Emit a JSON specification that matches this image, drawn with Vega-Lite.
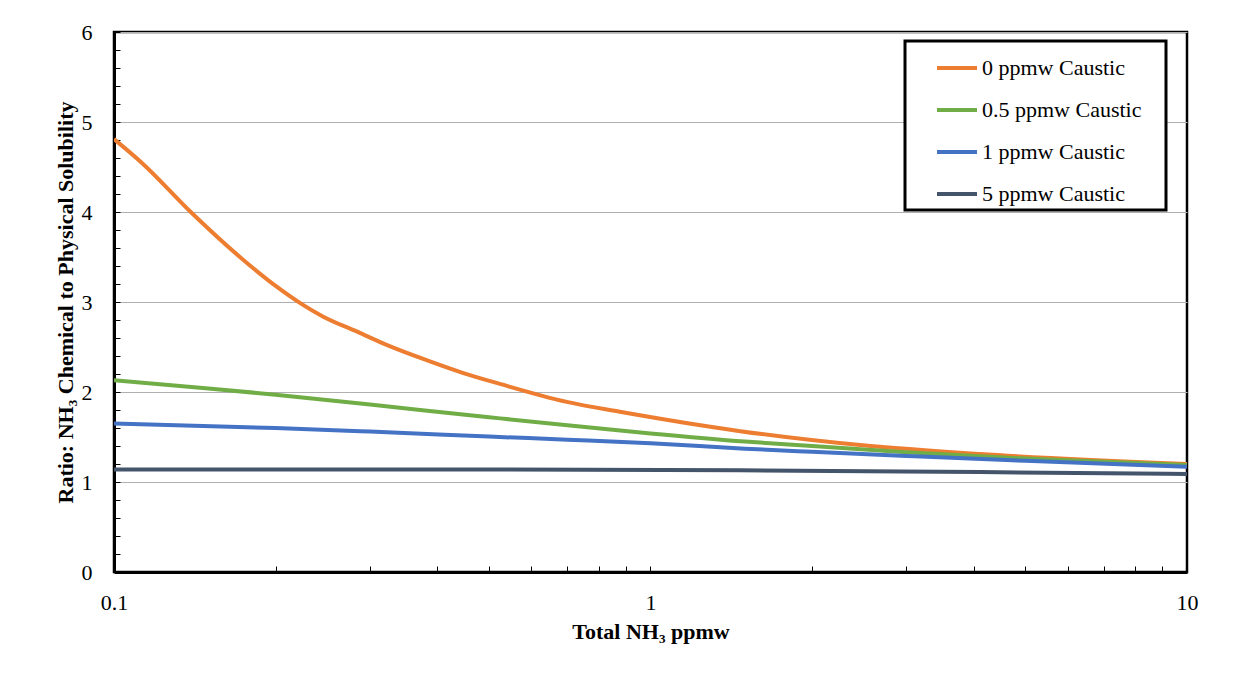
{
  "$schema": "https://vega.github.io/schema/vega-lite/v6.json",
  "width": 1073,
  "height": 540,
  "autosize": {"type": "none"},
  "padding": {"left": 114, "top": 32, "right": 64, "bottom": 102},
  "background": "white",
  "config": {
    "font": "Liberation Serif",
    "view": {"stroke": "black", "strokeWidth": 2.5},
    "axis": {"labelFont": "Liberation Serif", "titleFont": "Liberation Serif", "labelColor": "black", "titleColor": "black"},
    "legend": {"strokeWidth": 3}
  },
  "data": {
    "values": [
      {"x": 0.1, "y": 4.81, "series": "0 ppmw Caustic"},
      {"x": 0.113, "y": 4.54, "series": "0 ppmw Caustic"},
      {"x": 0.139, "y": 4.0, "series": "0 ppmw Caustic"},
      {"x": 0.174, "y": 3.47, "series": "0 ppmw Caustic"},
      {"x": 0.201, "y": 3.17, "series": "0 ppmw Caustic"},
      {"x": 0.222, "y": 2.99, "series": "0 ppmw Caustic"},
      {"x": 0.245, "y": 2.84, "series": "0 ppmw Caustic"},
      {"x": 0.284, "y": 2.67, "series": "0 ppmw Caustic"},
      {"x": 0.323, "y": 2.52, "series": "0 ppmw Caustic"},
      {"x": 0.388, "y": 2.34, "series": "0 ppmw Caustic"},
      {"x": 0.448, "y": 2.21, "series": "0 ppmw Caustic"},
      {"x": 0.524, "y": 2.09, "series": "0 ppmw Caustic"},
      {"x": 0.698, "y": 1.89, "series": "0 ppmw Caustic"},
      {"x": 0.877, "y": 1.78, "series": "0 ppmw Caustic"},
      {"x": 1.47, "y": 1.565, "series": "0 ppmw Caustic"},
      {"x": 2.46, "y": 1.41, "series": "0 ppmw Caustic"},
      {"x": 4.11, "y": 1.31, "series": "0 ppmw Caustic"},
      {"x": 10, "y": 1.2, "series": "0 ppmw Caustic"},
      {"x": 0.1, "y": 2.13, "series": "0.5 ppmw Caustic"},
      {"x": 0.15, "y": 2.04, "series": "0.5 ppmw Caustic"},
      {"x": 0.2, "y": 1.97, "series": "0.5 ppmw Caustic"},
      {"x": 0.3, "y": 1.86, "series": "0.5 ppmw Caustic"},
      {"x": 0.5, "y": 1.72, "series": "0.5 ppmw Caustic"},
      {"x": 0.7, "y": 1.63, "series": "0.5 ppmw Caustic"},
      {"x": 1, "y": 1.54, "series": "0.5 ppmw Caustic"},
      {"x": 1.5, "y": 1.45, "series": "0.5 ppmw Caustic"},
      {"x": 2, "y": 1.4, "series": "0.5 ppmw Caustic"},
      {"x": 3, "y": 1.33, "series": "0.5 ppmw Caustic"},
      {"x": 5, "y": 1.26, "series": "0.5 ppmw Caustic"},
      {"x": 10, "y": 1.19, "series": "0.5 ppmw Caustic"},
      {"x": 0.1, "y": 1.65, "series": "1 ppmw Caustic"},
      {"x": 0.2, "y": 1.6, "series": "1 ppmw Caustic"},
      {"x": 0.3, "y": 1.56, "series": "1 ppmw Caustic"},
      {"x": 0.5, "y": 1.505, "series": "1 ppmw Caustic"},
      {"x": 0.7, "y": 1.47, "series": "1 ppmw Caustic"},
      {"x": 1, "y": 1.43, "series": "1 ppmw Caustic"},
      {"x": 1.5, "y": 1.37, "series": "1 ppmw Caustic"},
      {"x": 2, "y": 1.335, "series": "1 ppmw Caustic"},
      {"x": 3, "y": 1.29, "series": "1 ppmw Caustic"},
      {"x": 5, "y": 1.235, "series": "1 ppmw Caustic"},
      {"x": 10, "y": 1.17, "series": "1 ppmw Caustic"},
      {"x": 0.1, "y": 1.14, "series": "5 ppmw Caustic"},
      {"x": 0.524, "y": 1.14, "series": "5 ppmw Caustic"},
      {"x": 1.47, "y": 1.13, "series": "5 ppmw Caustic"},
      {"x": 4.11, "y": 1.11, "series": "5 ppmw Caustic"},
      {"x": 10, "y": 1.09, "series": "5 ppmw Caustic"}
    ]
  },
  "mark": {"type": "line", "strokeWidth": 4, "interpolate": "monotone", "clip": true},
  "encoding": {
    "x": {
      "field": "x",
      "type": "quantitative",
      "scale": {"type": "log", "domain": [0.1, 10], "nice": false},
      "axis": {
        "title": "Total NH₃ ppmw",
        "titleFontSize": 22,
        "titleFontWeight": "bold",
        "titlePadding": 8,
        "values": [0.1, 0.2, 0.3, 0.4, 0.5, 0.6, 0.7, 0.8, 0.9, 1, 2, 3, 4, 5, 6, 7, 8, 9, 10],
        "labelExpr": "datum.value == 0.1 ? '0.1' : datum.value == 1 ? '1' : datum.value == 10 ? '10' : ''",
        "labelOverlap": false,
        "labelFontSize": 22,
        "labelPadding": 26,
        "labelFlush": false,
        "tickSize": -6,
        "tickColor": "black",
        "tickWidth": 1,
        "domainColor": "black",
        "domainWidth": 3,
        "grid": false
      }
    },
    "y": {
      "field": "y",
      "type": "quantitative",
      "scale": {"domain": [0, 6], "nice": false},
      "axis": {
        "title": "Ratio: NH₃ Chemical to Physical Solubility",
        "titleFontSize": 22,
        "titleFontWeight": "bold",
        "titlePadding": 4,
        "values": [0, 0.2, 0.4, 0.6, 0.8, 1, 1.2, 1.4, 1.6, 1.8, 2, 2.2, 2.4, 2.6, 2.8, 3, 3.2, 3.4, 3.6, 3.8, 4, 4.2, 4.4, 4.6, 4.8, 5, 5.2, 5.4, 5.6, 5.8, 6],
        "labelExpr": "datum.value % 1 === 0 ? format(datum.value, 'd') : ''",
        "labelOverlap": false,
        "labelFontSize": 22,
        "labelPadding": 28,
        "labelFlush": false,
        "tickSize": -6,
        "tickColor": "black",
        "tickWidth": 1,
        "domainColor": "black",
        "domainWidth": 3,
        "grid": true,
        "gridColor": "#b0b0b0",
        "gridWidth": 1,
        "gridOpacity": {"condition": {"test": "datum.value % 1 === 0", "value": 1}, "value": 0}
      }
    },
    "color": {
      "field": "series",
      "type": "nominal",
      "sort": ["0 ppmw Caustic", "0.5 ppmw Caustic", "1 ppmw Caustic", "5 ppmw Caustic"],
      "scale": {
        "domain": ["0 ppmw Caustic", "0.5 ppmw Caustic", "1 ppmw Caustic", "5 ppmw Caustic"],
        "range": ["#ED7D31", "#70AD47", "#4472C4", "#44546A"]
      },
      "legend": {
        "title": " ",
        "titleOrient": "right",
        "titlePadding": 20,
        "titleFontSize": 4,
        "orient": "none",
        "legendX": 791,
        "legendY": 9,
        "fillColor": "white",
        "strokeColor": "black",
        "padding": 5,
        "symbolOffset": 25,
        "symbolType": "stroke",
        "symbolSize": 1600,
        "symbolStrokeWidth": 4,
        "labelFont": "Liberation Serif",
        "labelFontSize": 22,
        "labelColor": "black",
        "labelOffset": 3,
        "labelLimit": 400,
        "rowPadding": 9,
        "encoding": {"legend": {"enter": {"strokeWidth": {"value": 3}}, "update": {"strokeWidth": {"value": 3}}}}
      }
    }
  }
}
